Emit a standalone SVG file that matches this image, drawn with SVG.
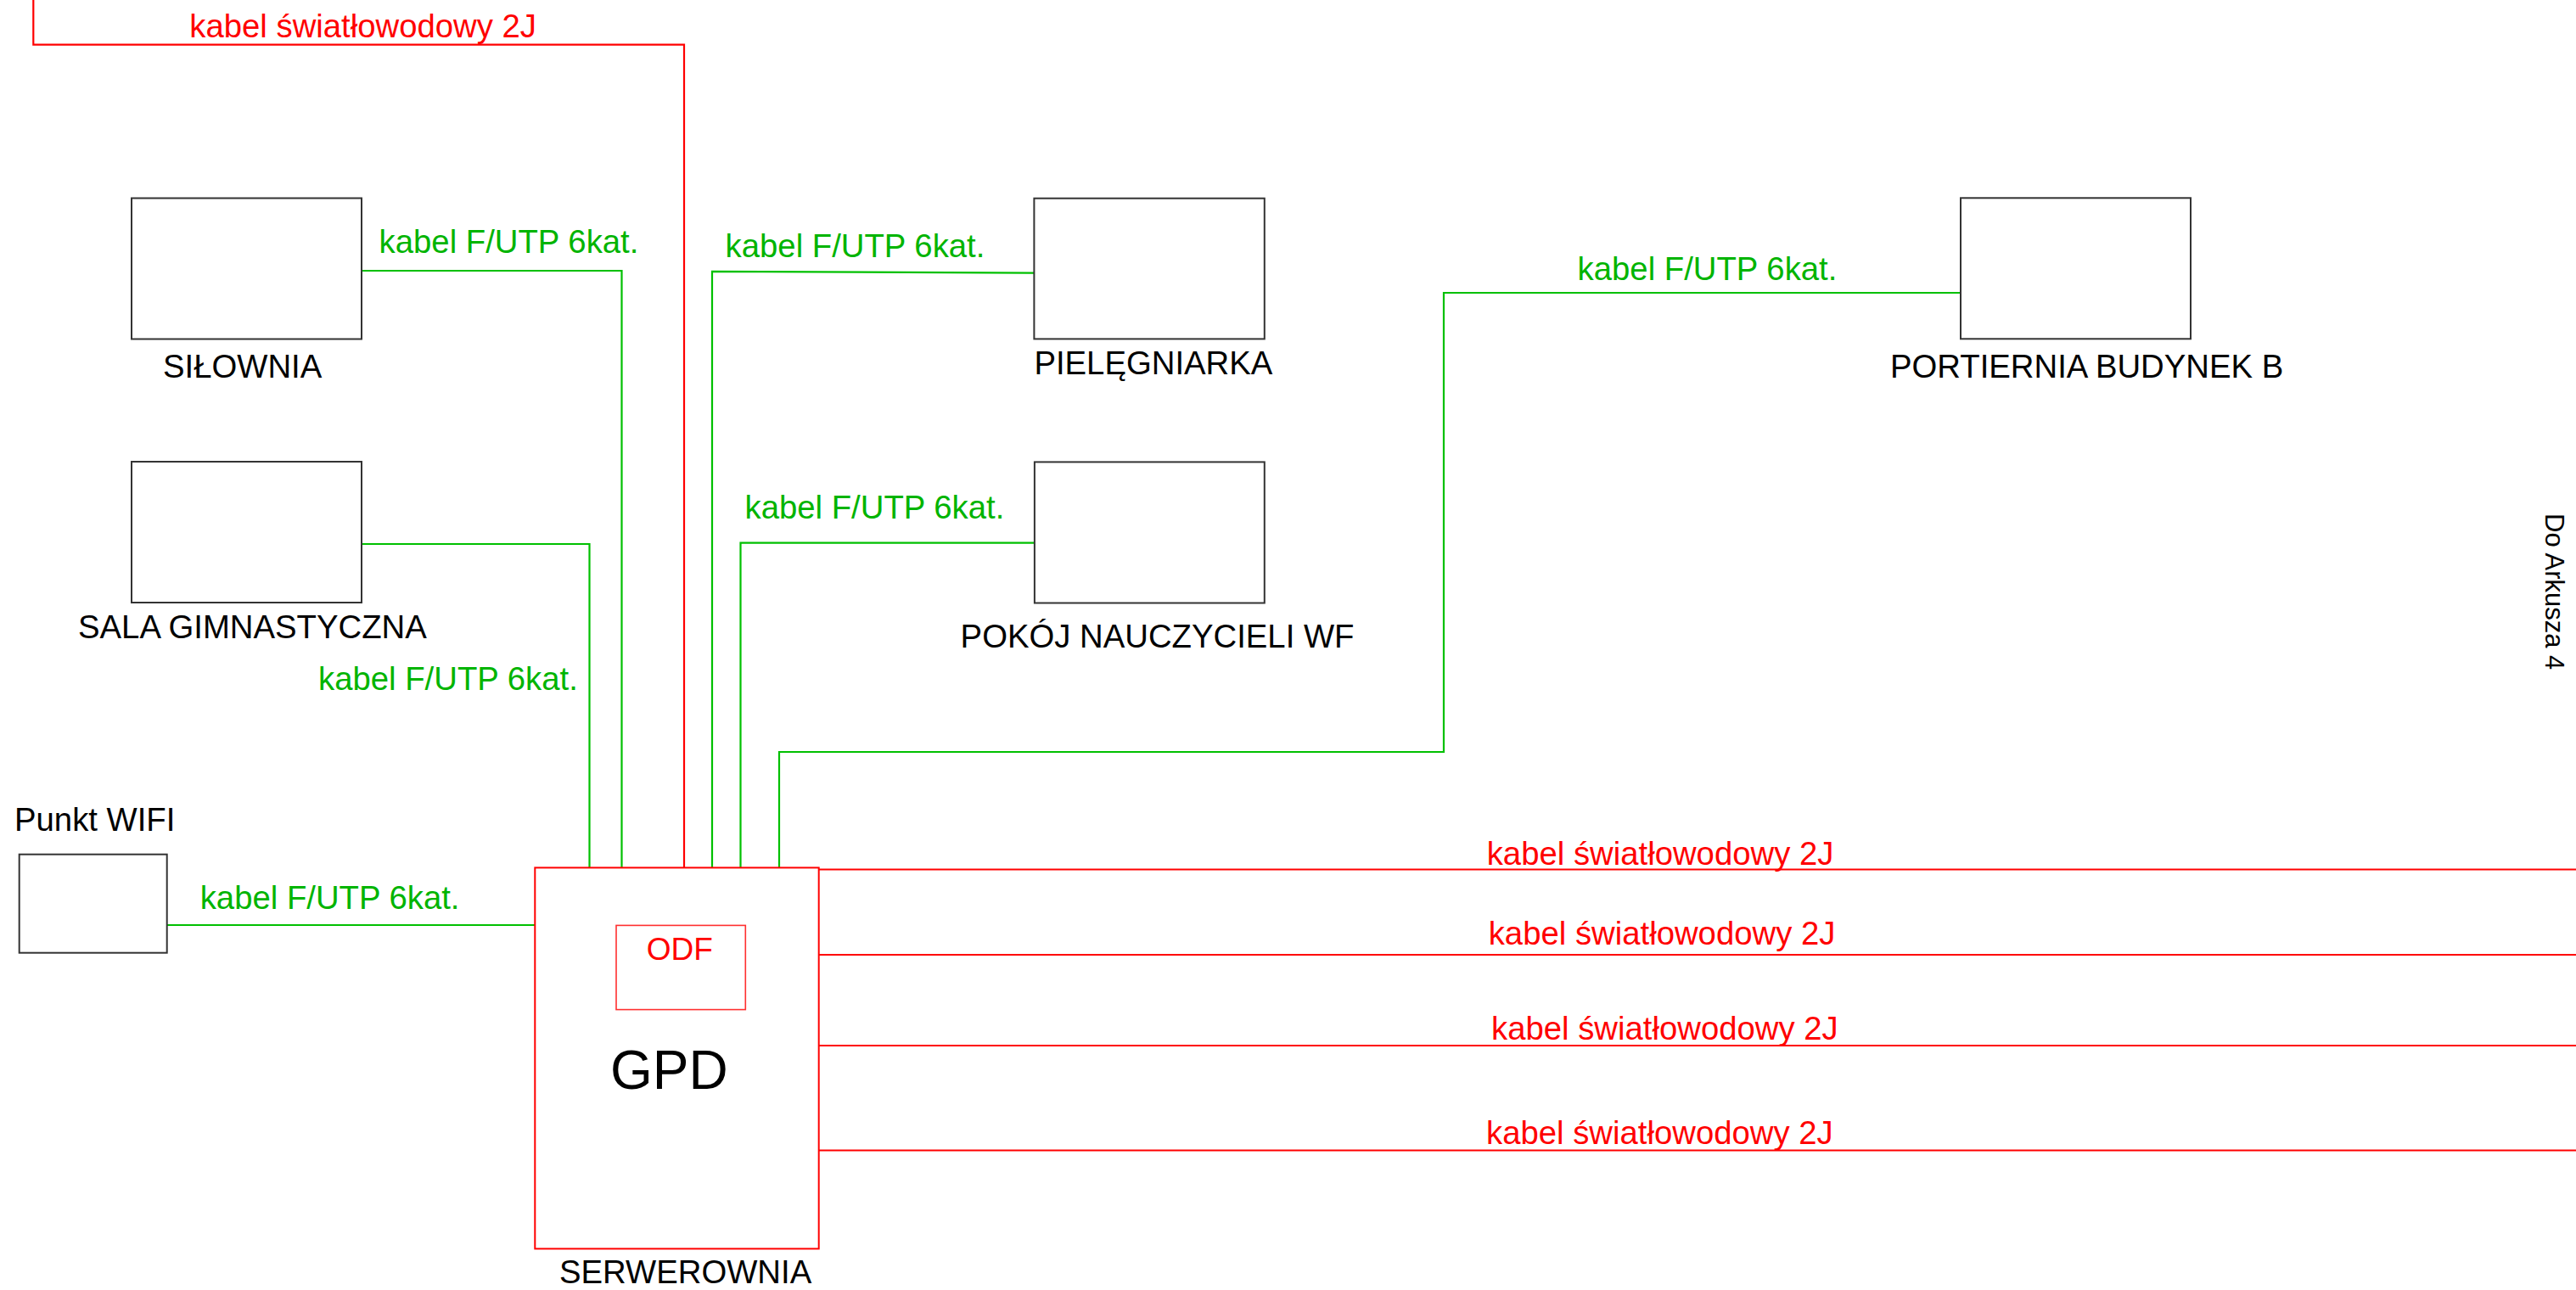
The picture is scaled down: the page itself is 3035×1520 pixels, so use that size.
<svg xmlns="http://www.w3.org/2000/svg" width="3035" height="1520" viewBox="0 0 3035 1520">
<style>
text{font-family:"Liberation Sans",Arial,sans-serif;font-size:38.3px}
.blk{fill:#000}
.grn{fill:#00b400}
.red{fill:#ff0000}
.box{fill:none;stroke:#333;stroke-width:2}
.gl{fill:none;stroke:#00c000;stroke-width:2.2}
.rl{fill:none;stroke:#ff0000;stroke-width:2.2}
</style>
<rect width="3035" height="1520" fill="#fff"/>
<g id="connectors">
<path class="rl" d="M39.3,0 V52.7 H806 V1022.4"/>
<path class="gl" d="M426,319 H732.5 V1022.4"/>
<path class="gl" d="M426,641 H694.5 V1022.4"/>
<path class="gl" d="M1218,321.7 L839,319.8 V1022.4"/>
<path class="gl" d="M1218.5,639.7 H872.5 V1022.4"/>
<path class="gl" d="M2310,345 H1701 V886 H918 V1022.4"/>
<path class="gl" d="M197,1090 H630.3"/>
<path class="rl" d="M964.7,1024.5 H3035"/>
<path class="rl" d="M964.7,1125 H3035"/>
<path class="rl" d="M964.7,1232 H3035"/>
<path class="rl" d="M964.7,1355.5 H3035"/>
<text class="red" x="223.3" y="44.3">kabel światłowodowy 2J</text>
<text class="grn" x="446.6" y="298">kabel F/UTP 6kat.</text>
<text class="grn" x="375" y="813">kabel F/UTP 6kat.</text>
<text class="grn" x="854.6" y="303">kabel F/UTP 6kat.</text>
<text class="grn" x="877.5" y="611">kabel F/UTP 6kat.</text>
<text class="grn" x="1858.6" y="330">kabel F/UTP 6kat.</text>
<text class="grn" x="235.7" y="1071">kabel F/UTP 6kat.</text>
<text class="red" x="1751.7" y="1019">kabel światłowodowy 2J</text>
<text class="red" x="1753.7" y="1113">kabel światłowodowy 2J</text>
<text class="red" x="1757" y="1225">kabel światłowodowy 2J</text>
<text class="red" x="1751" y="1348">kabel światłowodowy 2J</text>
</g>
<g id="silownia">
<rect class="box" x="155" y="233.5" width="271" height="166"/>
<text class="blk" x="192" y="445">SIŁOWNIA</text>
</g>
<g id="sala">
<rect class="box" x="155" y="544" width="271" height="166"/>
<text class="blk" x="92" y="752">SALA GIMNASTYCZNA</text>
</g>
<g id="pielegniarka">
<rect class="box" x="1218.4" y="233.7" width="271.4" height="165.7"/>
<text class="blk" x="1218.4" y="441">PIELĘGNIARKA</text>
</g>
<g id="pokoj">
<rect class="box" x="1218.9" y="544.4" width="270.9" height="166.1"/>
<text class="blk" x="1131.6" y="762.6">POKÓJ NAUCZYCIELI WF</text>
</g>
<g id="portiernia">
<rect class="box" x="2310" y="233.3" width="271" height="166"/>
<text class="blk" x="2227" y="445">PORTIERNIA BUDYNEK B</text>
</g>
<g id="wifi">
<rect class="box" x="22.7" y="1006.7" width="174" height="116"/>
<text class="blk" x="17" y="979">Punkt WIFI</text>
</g>
<g id="gpd">
<rect x="630.3" y="1022.4" width="334.4" height="449" fill="none" stroke="#ff0000" stroke-width="2"/>
<text class="blk" x="719" y="1283" style="font-size:64px">GPD</text>
<text class="blk" x="659" y="1512">SERWEROWNIA</text>
</g>
<g id="odf">
<rect x="726" y="1090.4" width="152.3" height="99.2" fill="none" stroke="#ff3030" stroke-width="1.6"/>
<text class="red" x="761.7" y="1130.7" style="font-size:37px">ODF</text>
</g>
<g id="arkusz4">
<text class="blk" transform="translate(2999,605) rotate(90)" style="font-size:31px">Do Arkusza 4</text>
</g>
</svg>
